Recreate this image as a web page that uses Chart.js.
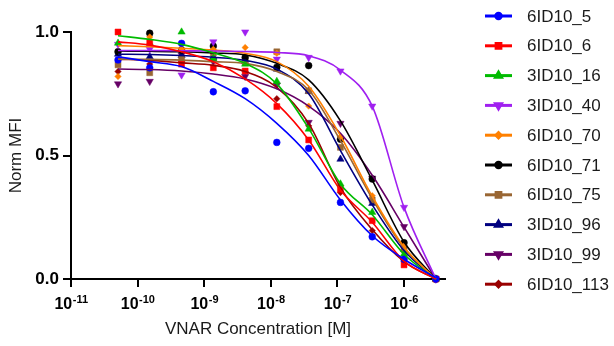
<!DOCTYPE html>
<html>
<head>
<meta charset="utf-8">
<script src="https://cdn.jsdelivr.net/npm/chart.js@4.4.1/dist/chart.umd.min.js"></script>
<style>
html, body { margin: 0; padding: 0; background: #fff; }
#wrap { width: 614px; height: 346px; }
</style>
</head>
<body>
<div id="wrap"><canvas id="chart"></canvas></div>
<script>
// concentrations (M), 3-fold dilution
const conc = [5.08e-11, 1.52e-10, 4.57e-10, 1.37e-9, 4.12e-9, 1.23e-8, 3.70e-8, 1.11e-7, 3.33e-7, 1.0e-6, 3.0e-6];
const decades = [1e-11, 1e-10, 1e-9, 1e-8, 1e-7, 1e-6];
const decadeExp = ['-11', '-10', '-9', '-8', '-7', '-6'];
const names = ['6ID10_5', '6ID10_6', '3ID10_16', '3ID10_40', '6ID10_70', '6ID10_71', '6ID10_75', '3ID10_96', '3ID10_99', '6ID10_113'];

// measured points (norm MFI)
const s5   = [0.887, 0.855, 0.954, 0.758, 0.762, 0.553, 0.529, 0.31, 0.171, 0.08, 0.0];
const s6   = [1.0, 0.957, 0.87, 0.855, 0.842, 0.698, 0.563, 0.363, 0.236, 0.057, 0.0];
const s16  = [0.955, 0.955, 1.0, 0.893, 0.87, 0.80, 0.607, 0.385, 0.27, 0.101, 0.0];
const s40  = [0.95, 0.93, 0.826, 0.96, 1.0, 0.89, 0.897, 0.842, 0.70, 0.29, 0.0];
const s70  = [0.82, 0.98, 0.93, 0.93, 0.937, 0.914, 0.70, 0.576, 0.337, 0.134, 0.0];
const s71  = [0.92, 0.995, 0.927, 0.943, 0.897, 0.857, 0.864, 0.566, 0.405, 0.147, 0.0];
const s75  = [0.867, 0.835, 0.89, 0.915, 0.88, 0.92, 0.762, 0.533, 0.32, 0.12, 0.0];
const s96  = [0.91, 0.90, 0.905, 0.90, 0.88, 0.85, 0.76, 0.485, 0.306, 0.12, 0.0];
const s99  = [0.79, 0.80, 0.907, 0.88, 0.82, 0.785, 0.634, 0.63, 0.408, 0.212, 0.0];
const s113 = [0.84, 0.87, 0.88, 0.915, 0.84, 0.73, 0.62, 0.35, 0.196, 0.07, 0.0];

// fitted curves, read at the same concentrations
const f5   = [0.90, 0.88, 0.86, 0.80, 0.73, 0.63, 0.50, 0.32, 0.175, 0.08, 0.005];
const f6   = [0.96, 0.947, 0.92, 0.88, 0.81, 0.71, 0.563, 0.36, 0.23, 0.072, 0.0];
const f16  = [0.985, 0.97, 0.95, 0.916, 0.873, 0.79, 0.61, 0.385, 0.26, 0.10, 0.0];
const f40  = [0.925, 0.925, 0.924, 0.923, 0.921, 0.917, 0.904, 0.846, 0.70, 0.29, 0.0];
const f70  = [0.945, 0.94, 0.934, 0.927, 0.914, 0.88, 0.78, 0.58, 0.335, 0.13, 0.0];
const f71  = [0.923, 0.922, 0.92, 0.915, 0.907, 0.873, 0.806, 0.64, 0.40, 0.15, 0.0];
const f75  = [0.89, 0.889, 0.886, 0.88, 0.873, 0.84, 0.765, 0.56, 0.325, 0.125, 0.0];
const f96  = [0.91, 0.909, 0.905, 0.898, 0.885, 0.85, 0.75, 0.52, 0.30, 0.115, 0.0];
const f99  = [0.85, 0.848, 0.842, 0.83, 0.81, 0.77, 0.70, 0.59, 0.42, 0.21, 0.0];
const f113 = [0.89, 0.885, 0.875, 0.865, 0.84, 0.776, 0.63, 0.37, 0.20, 0.07, 0.0];

const points = [s5, s6, s16, s40, s70, s71, s75, s96, s99, s113];
const fits = [f5, f6, f16, f40, f70, f71, f75, f96, f99, f113];
const colors = ['#0000ff', '#ff0000', '#00bb00', '#a020f0', '#ff8000', '#000000', '#996633', '#000080', '#660066', '#990000'];
const styles = ['circle', 'rect', 'triangle', 'triangle', 'rectRot', 'circle', 'rect', 'triangle', 'triangle', 'rectRot'];
const rotations = [0, 0, 0, 180, 0, 0, 0, 0, 180, 0];
const radii = [3.4, 4.2, 4.2, 4.2, 3.2, 3.4, 4.2, 4.2, 4.2, 3.2];

const FONT = 'Arial, "Liberation Sans", sans-serif';

const datasets = [];
for (let i = 0; i < names.length; i++) {
    datasets.push({
        type: 'line',
        label: names[i] + ' fit',
        data: conc.map((x, j) => ({ x: x, y: fits[i][j] })),
        borderColor: colors[i],
        borderWidth: 1.6,
        pointRadius: 0,
        cubicInterpolationMode: 'monotone',
        fill: false,
        clip: false
    });
}
for (let i = 0; i < names.length; i++) {
    datasets.push({
        type: 'scatter',
        label: names[i],
        data: conc.map((x, j) => ({ x: x, y: points[i][j] })),
        showLine: false,
        pointStyle: styles[i],
        pointRotation: rotations[i],
        pointRadius: radii[i],
        pointBorderWidth: 0.5,
        backgroundColor: colors[i],
        borderColor: colors[i],
        clip: false
    });
}

// x tick labels with superscripts + legend on the right
const extras = {
    id: 'extras',
    afterDraw(chart) {
        const ctx = chart.ctx;
        const xs = chart.scales.x;
        ctx.save();
        ctx.fillStyle = '#000';
        ctx.textBaseline = 'alphabetic';
        decades.forEach((v, i) => {
            const px = xs.getPixelForValue(v);
            ctx.font = 'bold 16px ' + FONT;
            const w1 = ctx.measureText('10').width;
            ctx.font = 'bold 11px ' + FONT;
            const w2 = ctx.measureText(decadeExp[i]).width;
            const x0 = px - (w1 + w2) / 2;
            ctx.font = 'bold 16px ' + FONT;
            ctx.textAlign = 'left';
            ctx.fillText('10', x0, 309);
            ctx.font = 'bold 11px ' + FONT;
            ctx.fillText(decadeExp[i], x0 + w1 + 0.5, 303);
        });

        // legend
        for (let i = 0; i < names.length; i++) {
            const cy = 16 + i * 29.8;
            ctx.strokeStyle = colors[i];
            ctx.fillStyle = colors[i];
            ctx.lineWidth = 3;
            ctx.beginPath();
            ctx.moveTo(485, cy);
            ctx.lineTo(512, cy);
            ctx.stroke();
            Chart.helpers.drawPoint(ctx, {
                pointStyle: styles[i],
                rotation: rotations[i],
                radius: radii[i] * 0.8,
                borderWidth: 0.5
            }, 498.5, cy);
            ctx.fillStyle = '#1a1a1a';
            ctx.font = '17px ' + FONT;
            ctx.textAlign = 'left';
            ctx.textBaseline = 'middle';
            ctx.fillText(names[i], 527, cy + 1);
        }
        ctx.restore();
    }
};

new Chart(document.getElementById('chart'), {
    type: 'scatter',
    data: { datasets: datasets },
    options: {
        responsive: true,
        maintainAspectRatio: false,
        animation: false,
        layout: { padding: { left: 0, right: 169, top: 32, bottom: 0 } },
        plugins: {
            legend: { display: false },
            tooltip: { enabled: false }
        },
        scales: {
            x: {
                type: 'logarithmic',
                min: 1e-11,
                max: 4.12e-6,
                afterBuildTicks: (s) => { s.ticks = decades.map(v => ({ value: v })); },
                afterFit: (s) => { s.height = 67; },
                ticks: { display: false },
                grid: { drawOnChartArea: false, drawTicks: true, tickLength: 8, color: '#000', lineWidth: 2 },
                border: { display: true, color: '#000', width: 2 },
                title: {
                    display: true,
                    text: 'VNAR Concentration [M]',
                    color: '#1a1a1a',
                    font: { family: FONT, size: 17 },
                    padding: { top: 0, bottom: 6 }
                }
            },
            y: {
                min: 0,
                max: 1,
                afterBuildTicks: (s) => { s.ticks = [0, 0.5, 1].map(v => ({ value: v })); },
                afterFit: (s) => { s.width = 71; },
                ticks: {
                    color: '#000',
                    padding: 4,
                    font: { family: FONT, size: 17, weight: 'bold' },
                    callback: (v) => Number(v).toFixed(1)
                },
                grid: { drawOnChartArea: false, drawTicks: true, tickLength: 8, color: '#000', lineWidth: 2 },
                border: { display: true, color: '#000', width: 2 },
                title: {
                    display: true,
                    text: 'Norm MFI',
                    color: '#1a1a1a',
                    font: { family: FONT, size: 17 },
                    padding: { top: 6, bottom: 0 }
                }
            }
        }
    },
    plugins: [extras]
});
</script>
</body>
</html>
